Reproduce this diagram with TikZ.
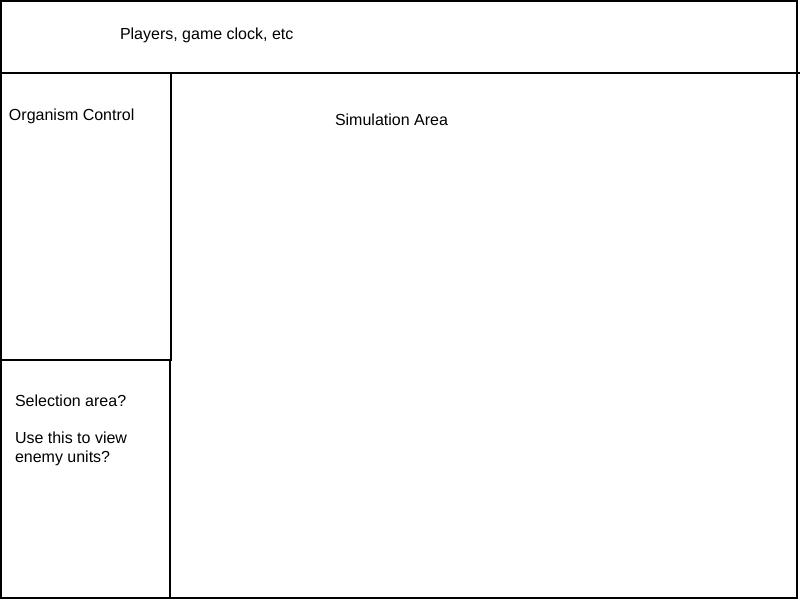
\documentclass[tikz,border=0pt]{standalone}
\usepackage{fontspec}
\setmainfont{Liberation Sans}
\begin{document}
\begin{tikzpicture}[x=1pt,y=-1pt,line width=2pt,
	label text/.style={anchor=base west,inner sep=0pt,align=left,
		font=\fontsize{16}{18.4}\selectfont}]

\def\screenW{797}
\def\screenH{598}
\def\barH{73}
\def\sideW{171}
\def\sideWW{170}
\def\splitY{360}

\useasboundingbox (0,0) rectangle (800,600);

% screen frame
\draw (1,1) rectangle (\screenW,\screenH);
% top bar
\draw (0,\barH) -- (800,\barH);
% side panels
\draw (\sideW,\barH) -- (\sideW,\splitY);
\draw (0,\splitY) -- (\sideW+1,\splitY);
\draw (\sideWW,\splitY) -- (\sideWW,\screenH);

% labels
\node[label text] (players) at (119,39) {Players, game clock, etc};
\node[label text] (organism) at (8,120) {Organism Control};
\node[label text] (simulation) at (334,125) {Simulation Area};
\node[label text] (selection) at (14,462) {Selection area?\\[18.4pt]Use this to view\\enemy units?};

\end{tikzpicture}
\end{document}
